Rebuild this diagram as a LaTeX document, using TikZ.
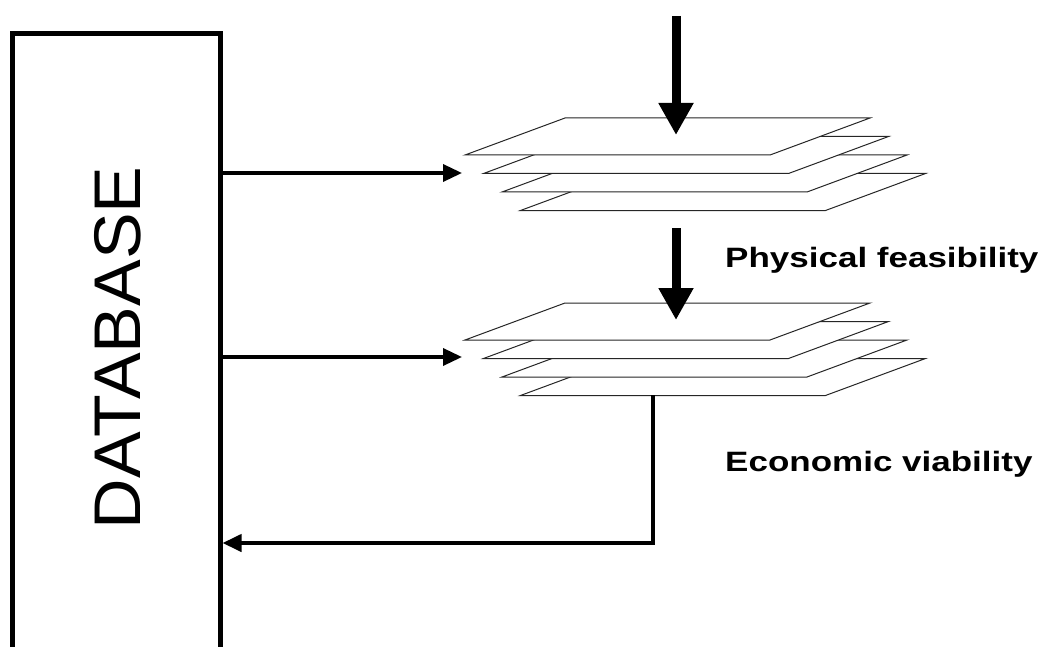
\documentclass[tikz,border=0pt]{standalone}
\usepackage{fontspec}
\setmainfont{Liberation Sans}
\usetikzlibrary{arrows.meta}

\begin{document}
\begin{tikzpicture}[x=1pt,y=-1pt,
  dbbox/.style={draw, line width=5pt, rectangle, inner sep=0pt,
    minimum width=208pt, minimum height=640pt},
  sheet/.style={draw=black!85, line width=1pt, fill=white, line join=miter},
  feed/.style={line width=3.5pt, -{Triangle[length=19pt,width=17pt]}},
  stage/.style={line width=9pt, -{Triangle[length=32pt,width=33pt]}},
  back/.style={line width=4pt, -{Triangle[length=19pt,width=17pt]}},
  caption/.style={anchor=base west, inner sep=0pt,
    font=\bfseries\fontsize{28}{28}\selectfont}
]
\useasboundingbox (0,0) rectangle (1054,647);

% database column
\node[dbbox] (db) at (116,354) {};
\node[rotate=90, inner sep=0pt, font=\fontsize{66}{66}\selectfont]
  (dbtext) at (118,348) {\scalebox{1.06}[1]{DATABASE}};

% a stack of four layers; #1,#2 = lower left corner of the top layer
\newcommand{\layerstack}[2]{%
  \foreach \k in {3,2,1,0}{%
    \path[sheet] ({#1+18.5*\k},{#2+18.5*\k}) -- ++(305,0) -- ++(100,-37)
      -- ++(-305,0) -- cycle;
  }%
}
\layerstack{465}{155}
\layerstack{465}{340}

% connector end points
\coordinate (topin) at (676,16);
\coordinate (stackA) at (676,135);
\coordinate (midout) at (676,228);
\coordinate (stackB) at (676,320);
\coordinate (inA) at (462,173);
\coordinate (inB) at (462,357);
\coordinate (outB) at (653,395);
\coordinate (turn) at (653,543);

\draw[stage] (topin) -- (stackA);
\draw[stage] (midout) -- (stackB);
\draw[feed] (db.east |- inA) -- (inA);
\draw[feed] (db.east |- inB) -- (inB);
\draw[back, line join=miter] (outB) -- (turn) -- (db.east |- turn);

\node[caption] (phys) at (725,267) {\scalebox{1.25}[1]{Physical feasibility}};
\node[caption] (econ) at (725,471) {\scalebox{1.25}[1]{Economic viability}};
\end{tikzpicture}
\end{document}
